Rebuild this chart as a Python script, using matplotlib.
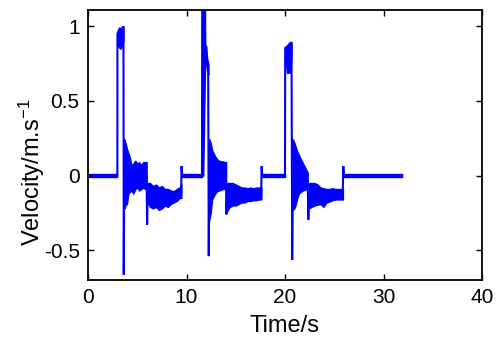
import numpy as np
import matplotlib
matplotlib.use("Agg")
import matplotlib.pyplot as plt

# ---------------- data ----------------
# skeleton of the velocity trace: time (s), velocity (m/s)
trace_t = [0.0, 2.98, 2.99, 3.1, 3.25, 3.4, 3.55, 3.6, 3.63, 3.70, 3.74,
           5.95, 6.0, 6.06, 9.45, 9.50, 9.56,
           11.57, 11.60, 11.85, 11.90, 12.05, 12.20, 12.26, 12.34, 12.38,
           14.0, 14.06, 14.12, 17.58, 17.63, 17.68,
           20.0, 20.02, 20.3, 20.55, 20.66, 20.73, 20.82, 20.86,
           22.3, 22.37, 22.44, 25.86, 25.92, 25.97, 31.9]
trace_v = [0.0, 0.0, 0.95, 0.97, 0.99, 0.96, 1.0, 0.98, -0.665, 0.24, 0.0,
           0.0, -0.33, -0.12, -0.12, 0.063, 0.0,
           0.0, 1.2, 1.2, 0.87, 0.80, 0.72, -0.54, 0.24, 0.0,
           0.0, -0.26, -0.12, -0.12, 0.063, 0.0,
           0.0, 0.855, 0.87, 0.89, 0.89, -0.564, 0.24, 0.0,
           -0.03, -0.295, -0.12, -0.12, 0.063, 0.0, 0.0]

# peak plateaus (time, upper, lower)
pk1_t = [3.0, 3.15, 3.3, 3.45, 3.6]
pk1_hi = [0.95, 0.98, 0.97, 0.99, 1.0]
pk1_lo = [0.88, 0.86, 0.85, 0.87, 0.90]
pk2_t = [11.58, 11.70, 11.88]
pk2_hi = [1.2, 1.2, 1.2]
pk2_lo = [0.0, 0.0, 0.75]
pk2b_t = [11.9, 12.0, 12.1, 12.22]
pk2b_hi = [0.87, 0.87, 0.78, 0.75]
pk2b_lo = [0.78, 0.74, 0.70, 0.68]
pk3_t = [20.02, 20.2, 20.5, 20.66]
pk3_hi = [0.855, 0.87, 0.88, 0.89]
pk3_lo = [0.80, 0.69, 0.69, 0.80]

# decaying oscillation right after each stop
osc1_t = [3.68, 3.8, 3.95, 4.1, 4.25, 4.4, 4.6, 4.8, 5.0, 5.2, 5.4, 5.6, 5.8, 5.95]
osc1_hi = [0.24, 0.22, 0.18, 0.15, 0.12, 0.07, 0.08, 0.10, 0.08, 0.09, 0.07, 0.09, 0.09, 0.09]
osc1_lo = [-0.22, -0.20, -0.19, -0.12, -0.11, -0.10, -0.12, -0.09, -0.08, -0.10, -0.09, -0.08, -0.09, -0.09]
osc2_t = [12.3, 12.45, 12.6, 12.75, 12.9, 13.1, 13.3, 13.5, 13.7, 13.9, 14.02]
osc2_hi = [0.24, 0.22, 0.17, 0.15, 0.13, 0.11, 0.10, 0.095, 0.095, 0.09, 0.09]
osc2_lo = [-0.30, -0.25, -0.16, -0.14, -0.12, -0.105, -0.10, -0.095, -0.09, -0.09, -0.09]
osc3_t = [20.8, 20.95, 21.1, 21.25, 21.4, 21.6, 21.8, 22.0, 22.15, 22.3]
osc3_hi = [0.24, 0.22, 0.19, 0.16, 0.14, 0.11, 0.085, 0.06, 0.04, 0.02]
osc3_lo = [-0.23, -0.22, -0.19, -0.15, -0.12, -0.11, -0.10, -0.095, -0.09, -0.09]

# noisy negative plateau before returning to zero
tail1_t = [6.05, 6.3, 6.6, 6.9, 7.2, 7.5, 7.8, 8.1, 8.4, 8.7, 9.0, 9.3, 9.48]
tail1_hi = [-0.05, -0.05, -0.07, -0.06, -0.08, -0.07, -0.09, -0.09, -0.10, -0.105, -0.09, -0.08, -0.06]
tail1_lo = [-0.18, -0.21, -0.22, -0.21, -0.23, -0.22, -0.20, -0.21, -0.19, -0.18, -0.17, -0.15, -0.15]
tail2_t = [14.1, 14.4, 14.7, 15.0, 15.3, 15.6, 15.9, 16.2, 16.5, 16.8, 17.1, 17.4, 17.6]
tail2_hi = [-0.05, -0.05, -0.05, -0.06, -0.07, -0.08, -0.08, -0.085, -0.08, -0.085, -0.08, -0.08, -0.08]
tail2_lo = [-0.24, -0.21, -0.20, -0.20, -0.19, -0.18, -0.18, -0.17, -0.17, -0.165, -0.165, -0.16, -0.16]
tail3_t = [22.45, 22.7, 23.0, 23.3, 23.6, 23.9, 24.2, 24.5, 24.8, 25.1, 25.4, 25.7, 25.88]
tail3_hi = [-0.05, -0.05, -0.05, -0.06, -0.08, -0.085, -0.09, -0.09, -0.085, -0.09, -0.09, -0.09, -0.09]
tail3_lo = [-0.22, -0.21, -0.20, -0.195, -0.19, -0.21, -0.18, -0.175, -0.165, -0.16, -0.16, -0.16, -0.16]

# standstill segments (small noise band around zero)
rest_start = [0.0, 9.55, 17.68, 25.97]
rest_end = [2.98, 11.57, 20.0, 31.9]
rest_hi = 0.012
rest_lo = -0.010

x_ticks = [0, 10, 20, 30, 40]
y_ticks = [-0.5, 0, 0.5, 1]
y_ticklabels = ["-0.5", "0", "0.5", "1"]

# ---------------- figure ----------------
plt.rcParams['font.family'] = ['Liberation Sans', 'DejaVu Sans']
plt.rcParams['mathtext.fontset'] = 'custom'
plt.rcParams['mathtext.rm'] = 'Liberation Sans'
plt.rcParams['mathtext.it'] = 'Liberation Sans'

fig = plt.figure(figsize=(5.03, 3.45), dpi=100)
ax = fig.add_axes([88 / 503, 1 - 280 / 345, (482 - 88) / 503, (280 - 10) / 345])

col = '#0000ff'
ax.plot(trace_t, trace_v, color=col, lw=1.5, solid_joinstyle='miter')

bands = [(pk1_t, pk1_hi, pk1_lo), (pk2_t, pk2_hi, pk2_lo), (pk2b_t, pk2b_hi, pk2b_lo),
         (pk3_t, pk3_hi, pk3_lo),
         (osc1_t, osc1_hi, osc1_lo), (osc2_t, osc2_hi, osc2_lo), (osc3_t, osc3_hi, osc3_lo),
         (tail1_t, tail1_hi, tail1_lo), (tail2_t, tail2_hi, tail2_lo), (tail3_t, tail3_hi, tail3_lo)]
for bt, bh, bl in bands:
    ax.fill_between(bt, bl, bh, facecolor=col, edgecolor=col, lw=1.0)
for s, e in zip(rest_start, rest_end):
    ax.fill_between([s, e], [rest_lo, rest_lo], [rest_hi, rest_hi],
                    facecolor=col, edgecolor=col, lw=1.0)

ax.set_xlim(0, 40)
ax.set_ylim(-0.70, 1.11)
ax.set_xticks(x_ticks)
ax.set_yticks(y_ticks)
ax.set_yticklabels(y_ticklabels)
ax.tick_params(direction='in', top=True, right=True, length=4, width=1.0,
               labelsize=15, pad=6)
for sp in ax.spines.values():
    sp.set_linewidth(1.3)

ax.set_xlabel('Time/s', fontsize=17)
ax.set_ylabel('Velocity/m.s$^{-1}$', fontsize=17)
ax.xaxis.set_label_coords(0.5, -0.13)
ax.yaxis.set_label_coords(-0.105, 0.40)

fig.savefig('out.png', dpi=100)
